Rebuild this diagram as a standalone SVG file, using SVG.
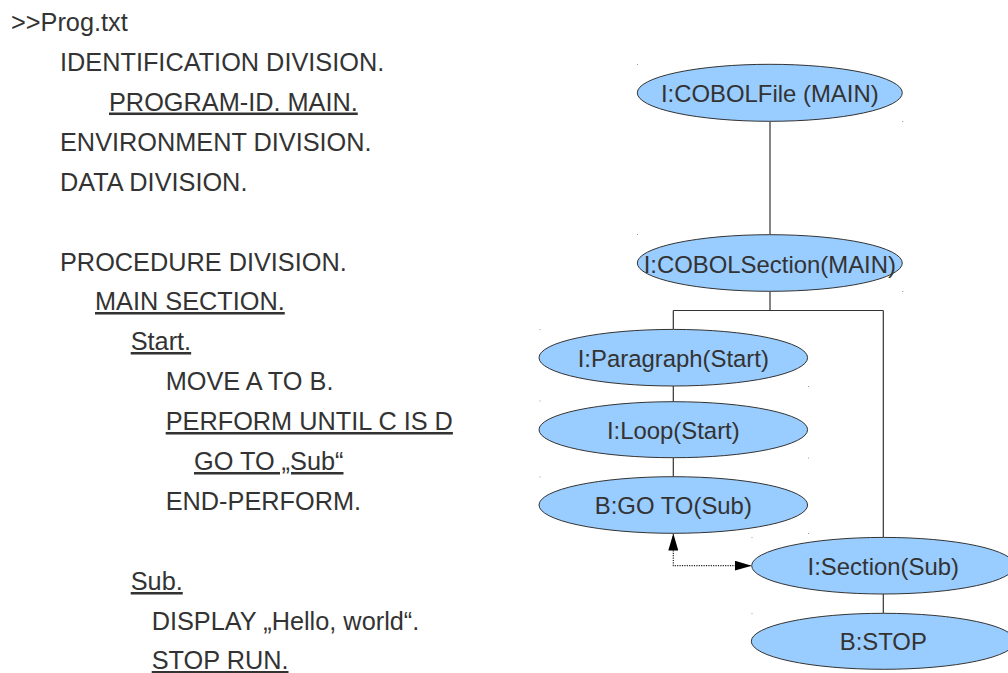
<svg xmlns="http://www.w3.org/2000/svg" width="1008" height="673" viewBox="0 0 1008 673">
  <style>
    .code { font-family: "Liberation Sans", Arial, sans-serif; font-size: 25.3px; fill: #333333; }
    .u { text-decoration: underline; }
    .node ellipse { fill: #99ccff; stroke: #333333; stroke-width: 1; }
    .node text { font-family: "Liberation Sans", Arial, sans-serif; font-size: 23.9px; fill: #333333; text-anchor: middle; }
    .edge { fill: none; stroke: #333333; stroke-width: 1.2; }
    .ref { fill: none; stroke: #222222; stroke-width: 1.2; stroke-dasharray: 1.2 1.2; }
    .tick { fill: #9a9a9a; }
  </style>
  <defs>
    <marker id="arrow" viewBox="0 0 17 10" refX="17" refY="5" markerWidth="17" markerHeight="10" markerUnits="userSpaceOnUse" orient="auto-start-reverse">
      <path d="M0,0 L17,5 L0,10 Z" fill="#000000"/>
    </marker>
  </defs>

  <rect width="1008" height="673" fill="#ffffff"/>

  <!-- source listing -->
  <g id="listing">
    <text class="code" x="11" y="31">&gt;&gt;Prog.txt</text>
    <text class="code" x="60" y="71">IDENTIFICATION DIVISION.</text>
    <text class="code u" x="109" y="110.5">PROGRAM-ID. MAIN.</text>
    <text class="code" x="60" y="150.5">ENVIRONMENT DIVISION.</text>
    <text class="code" x="60" y="190.5">DATA DIVISION.</text>
    <text class="code" x="60" y="270.5">PROCEDURE DIVISION.</text>
    <text class="code u" x="95" y="310">MAIN SECTION.</text>
    <text class="code u" x="130.7" y="350">Start.</text>
    <text class="code" x="165.7" y="390">MOVE A TO B.</text>
    <text class="code u" x="165.7" y="430">PERFORM UNTIL C IS D</text>
    <text class="code u" x="194" y="470">GO TO „Sub“</text>
    <text class="code" x="165.7" y="510">END-PERFORM.</text>
    <text class="code u" x="130.7" y="590">Sub.</text>
    <text class="code" x="151.7" y="630">DISPLAY „Hello, world“.</text>
    <text class="code u" x="151.7" y="669">STOP RUN.</text>
  </g>

  <!-- tree connectors -->
  <g id="connectors">
    <path class="edge" d="M770,121.5 V234.5"/>
    <path class="edge" d="M770,291.5 V310.5 M673.3,310.5 H883.3 M673.3,310.5 V329.3 M883.3,310.5 V537.3"/>
    <path class="edge" d="M673.3,386 V401.7 M673.3,457.7 V476.7"/>
    <path class="edge" d="M883.3,594 V613.3"/>
    <path class="ref" d="M673.3,533.5 V565.7 H751.7" marker-start="url(#arrow)" marker-end="url(#arrow)"/>
  </g>

  <!-- nodes -->
  <g id="node-cobolfile" class="node">
    <ellipse cx="769.8" cy="92.8" rx="132.5" ry="28.5"/>
    <text x="769.8" y="102.3">I:COBOLFile (MAIN)</text>
  </g>
  <g id="node-cobolsection" class="node">
    <ellipse cx="769.8" cy="263" rx="132.5" ry="28.3"/>
    <text x="769.8" y="272.5">I:COBOLSection(MAIN)</text>
  </g>
  <g id="node-paragraph" class="node">
    <ellipse cx="673.3" cy="357.7" rx="134.3" ry="28.3"/>
    <text x="673.3" y="366.5">I:Paragraph(Start)</text>
  </g>
  <g id="node-loop" class="node">
    <ellipse cx="673.3" cy="429.7" rx="134.3" ry="28"/>
    <text x="673.3" y="438.5">I:Loop(Start)</text>
  </g>
  <g id="node-goto" class="node">
    <ellipse cx="673.3" cy="505" rx="134.3" ry="28.3"/>
    <text x="673.3" y="513.8">B:GO TO(Sub)</text>
  </g>
  <g id="node-section-sub" class="node">
    <ellipse cx="883.3" cy="565.7" rx="131.6" ry="28.3"/>
    <text x="883.3" y="574.5">I:Section(Sub)</text>
  </g>
  <g id="node-stop" class="node">
    <ellipse cx="883.3" cy="641.3" rx="132" ry="28"/>
    <text x="883.3" y="650.1">B:STOP</text>
  </g>

  <!-- bounding-box corner ticks -->
  <g id="ticks">
    <rect class="tick" x="637" y="64" width="1" height="1"/>
    <rect class="tick" x="902" y="121" width="1.2" height="1"/>
    <rect class="tick" x="637" y="234" width="1" height="1"/>
    <rect class="tick" x="902" y="291" width="1.2" height="1"/>
    <rect class="tick" x="539.5" y="329" width="1" height="1"/>
    <rect class="tick" x="808" y="386" width="1" height="1"/>
    <rect class="tick" x="539.5" y="400.5" width="1" height="1"/>
    <rect class="tick" x="808" y="457.5" width="1" height="1"/>
    <rect class="tick" x="539.5" y="476.5" width="1" height="1"/>
    <rect class="tick" x="808" y="533" width="1" height="1"/>
    <rect class="tick" x="751.5" y="537" width="1" height="1"/>
    <rect class="tick" x="751.5" y="613" width="1" height="1"/>
  </g>
</svg>
